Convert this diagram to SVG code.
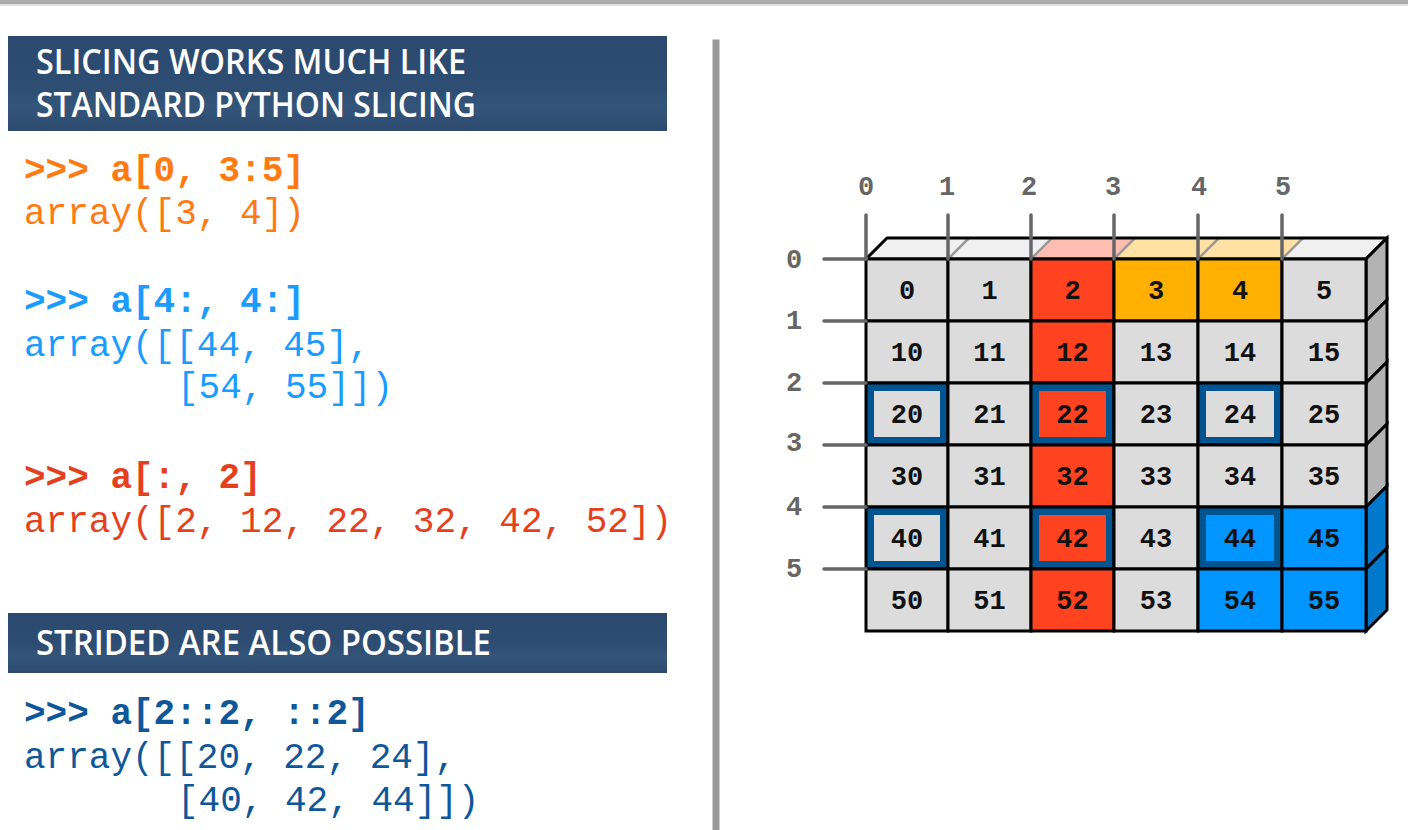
<svg xmlns="http://www.w3.org/2000/svg" width="1408" height="830" viewBox="0 0 1408 830">
<defs>
<linearGradient id="bannerGrad" x1="0" y1="0" x2="0" y2="1">
<stop offset="0" stop-color="#2b496e"/>
<stop offset="0.55" stop-color="#2e4d72"/>
<stop offset="0.75" stop-color="#34557a"/>
<stop offset="1" stop-color="#2c4a6e"/>
</linearGradient>
<style>
.banner{fill:url(#bannerGrad);}
.btext{font-family:"Open Sans","Liberation Sans",sans-serif;font-weight:600;font-size:34px;fill:#ffffff;}
.code{font-family:"Liberation Mono","DejaVu Sans Mono",monospace;font-size:36px;}
.prompt{font-weight:bold;}
.orange{fill:#ff7a10;}
.lblue{fill:#1a9bff;}
.red{fill:#e5401d;}
.dblue{fill:#0e5799;}
.cell{stroke:#000;stroke-width:3;}
.gray{fill:#dcdcdc;}
.cr{fill:#ff4220;}
.co{fill:#ffb000;}
.cb{fill:#0095ff;}
.bord{fill:#00548f;}
.num{font-family:"Liberation Mono","DejaVu Sans Mono",monospace;font-weight:bold;font-size:27px;fill:#111;text-anchor:middle;}
.axlbl{font-family:"Liberation Mono","DejaVu Sans Mono",monospace;font-weight:bold;font-size:27px;fill:#666;text-anchor:middle;}
.tick{stroke:#666;stroke-width:3.5;stroke-linecap:round;fill:none;}
.topdiag{stroke:#9a9a9a;stroke-width:2.5;}
.outline{fill:none;stroke:#000;stroke-width:3;stroke-linejoin:round;}
</style>
</defs>
<rect x="0" y="0" width="1408" height="830" fill="#ffffff"/>
<rect x="0" y="0" width="1408" height="4.5" fill="#acacac"/>
<rect x="0" y="4.5" width="1408" height="1.5" fill="#e6e6e6"/>
<rect x="712.5" y="39.5" width="7" height="791" fill="#999999"/>

<g id="banner1">
<rect class="banner" x="8" y="36" width="659" height="95"/>
<text class="btext" x="36" y="74" textLength="430" lengthAdjust="spacingAndGlyphs">SLICING WORKS MUCH LIKE</text>
<text class="btext" x="36" y="117" textLength="440" lengthAdjust="spacingAndGlyphs">STANDARD PYTHON SLICING</text>
</g>
<g id="banner2">
<rect class="banner" x="8" y="613" width="659" height="60"/>
<text class="btext" x="36" y="655" textLength="455" lengthAdjust="spacingAndGlyphs">STRIDED ARE ALSO POSSIBLE</text>
</g>

<g id="code1" class="code">
<text class="prompt orange" x="24" y="181">&gt;&gt;&gt; a[0, 3:5]</text>
<text class="orange" x="24" y="224">array([3, 4])</text>
</g>
<g id="code2" class="code">
<text class="prompt lblue" x="24" y="312">&gt;&gt;&gt; a[4:, 4:]</text>
<text class="lblue" x="24" y="356">array([[44, 45],</text>
<text class="lblue" x="177" y="398">[54, 55]])</text>
</g>
<g id="code3" class="code">
<text class="prompt red" x="24" y="488">&gt;&gt;&gt; a[:, 2]</text>
<text class="red" x="24" y="532">array([2, 12, 22, 32, 42, 52])</text>
</g>
<g id="code4" class="code">
<text class="prompt dblue" x="24" y="724">&gt;&gt;&gt; a[2::2, ::2]</text>
<text class="dblue" x="24" y="768">array([[20, 22, 24],</text>
<text class="dblue" x="177" y="811">[40, 42, 44]])</text>
</g>

<g id="topface">
<polygon points="866,259 887,238 969,238 948,259" fill="#f0f0f0"/>
<polygon points="948,259 969,238 1052,238 1031,259" fill="#f0f0f0"/>
<polygon points="1031,259 1052,238 1135,238 1114,259" fill="#ffbdb2"/>
<polygon points="1114,259 1135,238 1219,238 1198,259" fill="#ffe1a4"/>
<polygon points="1198,259 1219,238 1303,238 1282,259" fill="#ffe1a4"/>
<polygon points="1282,259 1303,238 1387,238 1366,259" fill="#f0f0f0"/>
<line class="topdiag" x1="948" y1="259" x2="969" y2="238"/>
<line class="topdiag" x1="1031" y1="259" x2="1052" y2="238"/>
<line class="topdiag" x1="1114" y1="259" x2="1135" y2="238"/>
<line class="topdiag" x1="1198" y1="259" x2="1219" y2="238"/>
<line class="topdiag" x1="1282" y1="259" x2="1303" y2="238"/>
<polygon class="outline" points="866,259 887,238 1387,238 1366,259"/>
</g>

<g id="sideface">
<polygon class="cell" fill="#b3b3b3" points="1366,259 1387,238 1387,300 1366,321"/>
<polygon class="cell" fill="#b3b3b3" points="1366,321 1387,300 1387,362 1366,383"/>
<polygon class="cell" fill="#b3b3b3" points="1366,383 1387,362 1387,424 1366,445"/>
<polygon class="cell" fill="#b3b3b3" points="1366,445 1387,424 1387,486 1366,507"/>
<polygon class="cell" fill="#0078cc" points="1366,507 1387,486 1387,548 1366,569"/>
<polygon class="cell" fill="#0078cc" points="1366,569 1387,548 1387,610 1366,631"/>
</g>

<g id="row0">
<g id="c0"><rect class="cell gray" x="866" y="259" width="82" height="62"/><text class="num" x="907" y="299">0</text></g>
<g id="c1"><rect class="cell gray" x="948" y="259" width="83" height="62"/><text class="num" x="989.5" y="299">1</text></g>
<g id="c2"><rect class="cell cr" x="1031" y="259" width="83" height="62"/><text class="num" x="1072.5" y="299">2</text></g>
<g id="c3"><rect class="cell co" x="1114" y="259" width="84" height="62"/><text class="num" x="1156" y="299">3</text></g>
<g id="c4"><rect class="cell co" x="1198" y="259" width="84" height="62"/><text class="num" x="1240" y="299">4</text></g>
<g id="c5"><rect class="cell gray" x="1282" y="259" width="84" height="62"/><text class="num" x="1324" y="299">5</text></g>
</g>
<g id="row1">
<g id="c10"><rect class="cell gray" x="866" y="321" width="82" height="62"/><text class="num" x="907" y="361">10</text></g>
<g id="c11"><rect class="cell gray" x="948" y="321" width="83" height="62"/><text class="num" x="989.5" y="361">11</text></g>
<g id="c12"><rect class="cell cr" x="1031" y="321" width="83" height="62"/><text class="num" x="1072.5" y="361">12</text></g>
<g id="c13"><rect class="cell gray" x="1114" y="321" width="84" height="62"/><text class="num" x="1156" y="361">13</text></g>
<g id="c14"><rect class="cell gray" x="1198" y="321" width="84" height="62"/><text class="num" x="1240" y="361">14</text></g>
<g id="c15"><rect class="cell gray" x="1282" y="321" width="84" height="62"/><text class="num" x="1324" y="361">15</text></g>
</g>
<g id="row2">
<g id="c20"><rect class="cell bord" x="866" y="383" width="82" height="62"/><rect class="gray" x="874" y="391" width="66" height="46"/><text class="num" x="907" y="423">20</text></g>
<g id="c21"><rect class="cell gray" x="948" y="383" width="83" height="62"/><text class="num" x="989.5" y="423">21</text></g>
<g id="c22"><rect class="cell bord" x="1031" y="383" width="83" height="62"/><rect class="cr" x="1039" y="391" width="67" height="46"/><text class="num" x="1072.5" y="423">22</text></g>
<g id="c23"><rect class="cell gray" x="1114" y="383" width="84" height="62"/><text class="num" x="1156" y="423">23</text></g>
<g id="c24"><rect class="cell bord" x="1198" y="383" width="84" height="62"/><rect class="gray" x="1206" y="391" width="68" height="46"/><text class="num" x="1240" y="423">24</text></g>
<g id="c25"><rect class="cell gray" x="1282" y="383" width="84" height="62"/><text class="num" x="1324" y="423">25</text></g>
</g>
<g id="row3">
<g id="c30"><rect class="cell gray" x="866" y="445" width="82" height="62"/><text class="num" x="907" y="485">30</text></g>
<g id="c31"><rect class="cell gray" x="948" y="445" width="83" height="62"/><text class="num" x="989.5" y="485">31</text></g>
<g id="c32"><rect class="cell cr" x="1031" y="445" width="83" height="62"/><text class="num" x="1072.5" y="485">32</text></g>
<g id="c33"><rect class="cell gray" x="1114" y="445" width="84" height="62"/><text class="num" x="1156" y="485">33</text></g>
<g id="c34"><rect class="cell gray" x="1198" y="445" width="84" height="62"/><text class="num" x="1240" y="485">34</text></g>
<g id="c35"><rect class="cell gray" x="1282" y="445" width="84" height="62"/><text class="num" x="1324" y="485">35</text></g>
</g>
<g id="row4">
<g id="c40"><rect class="cell bord" x="866" y="507" width="82" height="62"/><rect class="gray" x="874" y="515" width="66" height="46"/><text class="num" x="907" y="547">40</text></g>
<g id="c41"><rect class="cell gray" x="948" y="507" width="83" height="62"/><text class="num" x="989.5" y="547">41</text></g>
<g id="c42"><rect class="cell bord" x="1031" y="507" width="83" height="62"/><rect class="cr" x="1039" y="515" width="67" height="46"/><text class="num" x="1072.5" y="547">42</text></g>
<g id="c43"><rect class="cell gray" x="1114" y="507" width="84" height="62"/><text class="num" x="1156" y="547">43</text></g>
<g id="c44"><rect class="cell bord" x="1198" y="507" width="84" height="62"/><rect class="cb" x="1206" y="515" width="68" height="46"/><text class="num" x="1240" y="547">44</text></g>
<g id="c45"><rect class="cell cb" x="1282" y="507" width="84" height="62"/><text class="num" x="1324" y="547">45</text></g>
</g>
<g id="row5">
<g id="c50"><rect class="cell gray" x="866" y="569" width="82" height="62"/><text class="num" x="907" y="609">50</text></g>
<g id="c51"><rect class="cell gray" x="948" y="569" width="83" height="62"/><text class="num" x="989.5" y="609">51</text></g>
<g id="c52"><rect class="cell cr" x="1031" y="569" width="83" height="62"/><text class="num" x="1072.5" y="609">52</text></g>
<g id="c53"><rect class="cell gray" x="1114" y="569" width="84" height="62"/><text class="num" x="1156" y="609">53</text></g>
<g id="c54"><rect class="cell cb" x="1198" y="569" width="84" height="62"/><text class="num" x="1240" y="609">54</text></g>
<g id="c55"><rect class="cell cb" x="1282" y="569" width="84" height="62"/><text class="num" x="1324" y="609">55</text></g>
</g>

<g id="axes">
<line class="tick" x1="866" y1="215" x2="866" y2="259"/>
<line class="tick" x1="948" y1="215" x2="948" y2="259"/>
<line class="tick" x1="1031" y1="215" x2="1031" y2="259"/>
<line class="tick" x1="1114" y1="215" x2="1114" y2="259"/>
<line class="tick" x1="1198" y1="215" x2="1198" y2="259"/>
<line class="tick" x1="1282" y1="215" x2="1282" y2="259"/>
<line class="tick" x1="824" y1="259" x2="866" y2="259"/>
<line class="tick" x1="824" y1="321" x2="866" y2="321"/>
<line class="tick" x1="824" y1="383" x2="866" y2="383"/>
<line class="tick" x1="824" y1="445" x2="866" y2="445"/>
<line class="tick" x1="824" y1="507" x2="866" y2="507"/>
<line class="tick" x1="824" y1="569" x2="866" y2="569"/>
<text class="axlbl" x="866" y="195">0</text>
<text class="axlbl" x="947" y="195">1</text>
<text class="axlbl" x="1029" y="195">2</text>
<text class="axlbl" x="1113" y="195">3</text>
<text class="axlbl" x="1199" y="195">4</text>
<text class="axlbl" x="1283" y="195">5</text>
<text class="axlbl" x="794" y="268">0</text>
<text class="axlbl" x="794" y="329">1</text>
<text class="axlbl" x="794" y="391">2</text>
<text class="axlbl" x="794" y="451">3</text>
<text class="axlbl" x="794" y="515">4</text>
<text class="axlbl" x="794" y="577">5</text>
</g>
</svg>
